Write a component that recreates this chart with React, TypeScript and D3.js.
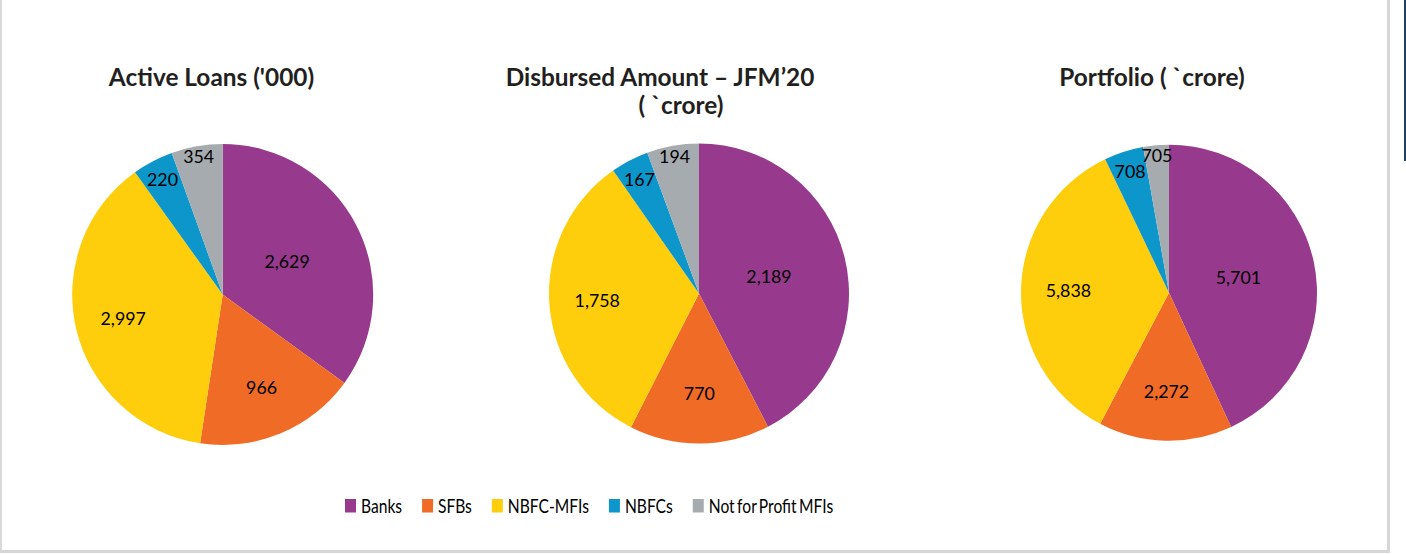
import React, { useEffect, useRef } from "react";
import * as d3 from "d3";

// categories, in the order the slices run clockwise from 12 o'clock
const categories = ["Banks", "SFBs", "NBFC-MFIs", "NBFCs", "Not for Profit MFIs"];
const colors = ["#973a8d", "#ef6b26", "#fecd0b", "#0d96ca", "#a6abb0"];

// values printed on the slices
const activeLoans = [2629, 966, 2997, 220, 354];
const disbursed = [2189, 770, 1758, 167, 194];
const portfolio = [5701, 2272, 5838, 708, 705];

// slice sizes as drawn in the source (percent) - they do not follow the printed values exactly
const activeLoansShare = [35.0, 17.4, 37.7, 4.4, 5.5];
const disbursedShare = [42.4, 15.1, 32.8, 4.1, 5.6];
const portfolioShare = [43.1, 14.6, 35.2, 4.3, 2.8];

const titles = [["Active Loans ('000)"], ["Disbursed Amount \u2013 JFM\u201920", "( `crore)"], ["Portfolio ( `crore)"]];

const W = 1406;
const H = 554;

export default function App() {
  const ref = useRef<SVGSVGElement>(null);

  useEffect(() => {
    const svg = d3.select(ref.current);
    svg.selectAll("*").remove();

    // frame
    svg.append("rect").attr("x", 0).attr("y", 0).attr("width", W).attr("height", H).attr("fill", "#fff");
    svg.append("line").attr("x1", 1).attr("x2", 1).attr("y1", 0).attr("y2", 553).attr("stroke", "#d9d9d9").attr("stroke-width", 2);
    svg.append("line").attr("x1", 0).attr("x2", 1390).attr("y1", 551.5).attr("y2", 551.5).attr("stroke", "#d6d6d6").attr("stroke-width", 3);
    svg.append("line").attr("x1", 1388.5).attr("x2", 1388.5).attr("y1", 0).attr("y2", 553).attr("stroke", "#d6d6d6").attr("stroke-width", 3);
    svg.append("line").attr("x1", 1405).attr("x2", 1405).attr("y1", 0).attr("y2", 161).attr("stroke", "#1f4060").attr("stroke-width", 2);

    const charts = [
      { values: activeLoans, share: activeLoansShare, cx: 222.7, cy: 294.5, r: 150.5, titleX: [211.5] },
      { values: disbursed, share: disbursedShare, cx: 699, cy: 293.5, r: 150, titleX: [660, 681] },
      { values: portfolio, share: portfolioShare, cx: 1169, cy: 292.7, r: 148, titleX: [1152] },
    ];
    // how far out each category's label sits, as a fraction of the radius
    const labelPos = [0.48, 0.67, 0.68, 0.86, 0.93];

    const pie = d3.pie<number>().sort(null).value((d) => d);
    const fmt = d3.format(",");

    charts.forEach((c, ci) => {
      const g = svg.append("g").attr("transform", "translate(" + c.cx + "," + c.cy + ")");
      const arcs = pie(c.share);
      const arc = d3.arc<d3.PieArcDatum<number>>().innerRadius(0).outerRadius(c.r);

      g.selectAll("path")
        .data(arcs)
        .enter()
        .append("path")
        .attr("d", arc)
        .attr("fill", (d, i) => colors[i]);

      g.selectAll("text")
        .data(arcs)
        .enter()
        .append("text")
        .attr("transform", (d, i) => {
          const k = labelPos[i] * c.r;
          const p = d3.arc<d3.PieArcDatum<number>>().innerRadius(k).outerRadius(k).centroid(d);
          return "translate(" + p[0] + "," + p[1] + ")";
        })
        .attr("text-anchor", "middle")
        .attr("dy", "0.36em")
        .attr("font-family", "Lato, 'Open Sans', sans-serif")
        .attr("font-size", 17.8)
        .attr("fill", "#000")
        .text((d, i) => fmt(c.values[i]));

      titles[ci].forEach((line, li) => {
        svg.append("text")
          .attr("x", c.titleX[li])
          .attr("y", 86 + li * 27.5)
          .attr("text-anchor", "middle")
          .attr("font-family", "Lato, 'Open Sans', sans-serif")
          .attr("font-weight", "bold")
          .attr("font-size", 24.4)
          .attr("fill", "#231f20")
          .text(line);
      });
    });

    // legend
    const sx = 0.8;
    let x = 345;
    categories.forEach((name, i) => {
      const item = svg.append("g");
      item.append("rect").attr("x", x).attr("y", 499).attr("width", 11).attr("height", 13.5).attr("fill", colors[i]);
      const t = item.append("text")
        .attr("transform", "translate(" + (x + 16) + ",513) scale(" + sx + ",1)")
        .attr("font-family", "Lato, 'Open Sans', sans-serif")
        .attr("font-size", 19.5)
        .attr("word-spacing", i === 4 ? -2 : 0)
        .attr("fill", "#000")
        .text(name);
      const w = (t.node() as SVGTextElement).getComputedTextLength() * sx;
      x += 16 + w + 20;
    });
  }, []);

  return (
    <svg
      ref={ref}
      width={W}
      height={H}
      style={{ position: "absolute", left: 0, top: 0, display: "block" }}
    />
  );
}
